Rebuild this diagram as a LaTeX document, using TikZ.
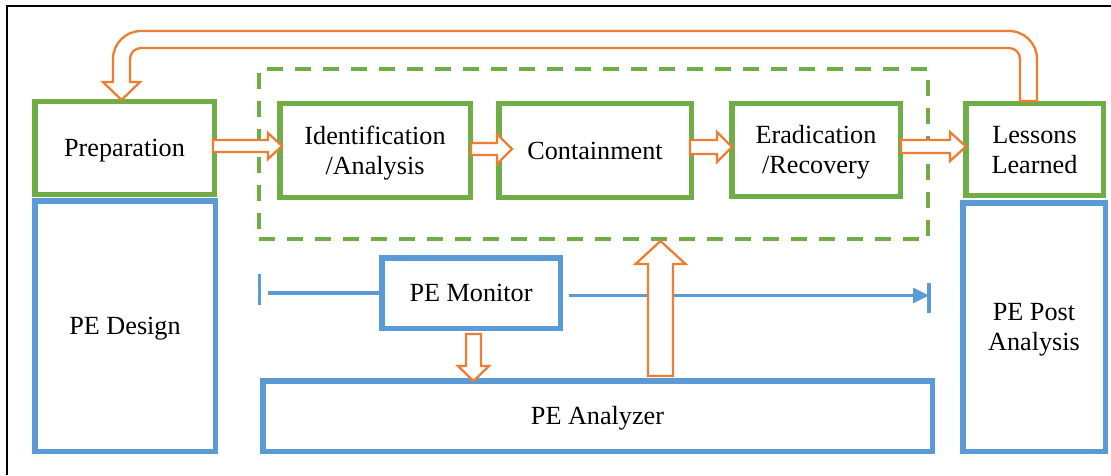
\documentclass[tikz,border=0pt]{standalone}
\usepackage{fontspec}
\setmainfont{Liberation Serif}
\usetikzlibrary{calc,arrows.meta}

\definecolor{boxgreen}{HTML}{70AD47}
\definecolor{boxblue}{HTML}{5B9BD5}
\definecolor{flow}{HTML}{ED7D31}

\newcommand\diagfont{\fontsize{26.2}{30}\selectfont}
% line box of the font (ascent + descent), so lines sit as in a word processor
\newcommand\lbox{\rule[-0.216em]{0pt}{1.107em}}

\tikzset{
  phase/.style={draw=boxgreen, line width=5.5pt, fill=white, align=center,
                inner sep=0pt, font=\diagfont},
  tool/.style={draw=boxblue, line width=5.5pt, fill=white, align=center,
               inner sep=0pt, font=\diagfont},
  framebox/.style={draw=boxgreen, line width=4pt, dash pattern=on 16pt off 12pt,
                   inner sep=0pt},
  blockarrow/.style={draw=flow, fill=white, line width=2.3pt, line join=miter},
  monline/.style={draw=boxblue, line width=3.3pt},
}

% block arrow pointing right: tail, tip, shaft half-width, head half-width, head length
\newcommand\rightblock[5]{%
  \path[blockarrow] let \p1=(#1), \p2=(#2) in
    (\x1,{\y2+#3pt}) -- ({\x2-#5pt},{\y2+#3pt}) -- ({\x2-#5pt},{\y2+#4pt})
    -- (\x2,\y2) -- ({\x2-#5pt},{\y2-#4pt}) -- ({\x2-#5pt},{\y2-#3pt})
    -- (\x1,{\y2-#3pt}) -- cycle;}
% block arrow pointing up
\newcommand\upblock[5]{%
  \path[blockarrow] let \p1=(#1), \p2=(#2) in
    ({\x2+#3pt},\y1) -- ({\x2+#3pt},{\y2-#5pt}) -- ({\x2+#4pt},{\y2-#5pt})
    -- (\x2,\y2) -- ({\x2-#4pt},{\y2-#5pt}) -- ({\x2-#3pt},{\y2-#5pt})
    -- ({\x2-#3pt},\y1) -- cycle;}
% block arrow pointing down
\newcommand\downblock[5]{%
  \path[blockarrow] let \p1=(#1), \p2=(#2) in
    ({\x2+#3pt},\y1) -- ({\x2+#3pt},{\y2+#5pt}) -- ({\x2+#4pt},{\y2+#5pt})
    -- (\x2,\y2) -- ({\x2-#4pt},{\y2+#5pt}) -- ({\x2-#3pt},{\y2+#5pt})
    -- ({\x2-#3pt},\y1) -- cycle;}

\begin{document}
\begin{tikzpicture}[x=1pt,y=1pt]
\useasboundingbox (0,0) rectangle (1111,475);

% outer frame (left and top edges)
\draw[line width=2pt] (7,0) -- (7,469) -- (1111,469);

% dashed group around the response phases
\node[framebox, minimum width=669pt, minimum height=170pt] (frame) at (593.5,321) {};

% incident response phases
\node[phase, minimum width=179.5pt, minimum height=92.5pt] (prep)    at (124.5,327)   {\lbox Preparation};
\node[phase, minimum width=190.5pt, minimum height=93.5pt] (ident)   at (375,324.5)   {\lbox Identification\\\lbox/Analysis};
\node[phase, minimum width=192.5pt, minimum height=93.5pt] (cont)    at (595,324.5)   {\lbox Containment};
\node[phase, minimum width=168.5pt, minimum height=92.5pt] (erad)    at (816,325)     {\lbox Eradication\\\lbox/Recovery};
\node[phase, minimum width=137.5pt, minimum height=91.5pt] (lessons) at (1034.5,325.5) {\lbox Lessons\\\lbox Learned};

% PE tooling
\node[tool, minimum width=180.5pt, minimum height=250.5pt] (design) at (125,149)    {\lbox PE Design};
\node[tool, minimum width=142.5pt, minimum height=248.5pt] (post)   at (1034,148)   {\lbox PE Post\\\lbox Analysis};
\node[tool, minimum width=178.5pt, minimum height=70.5pt]  (mon)    at (471,182)    {\lbox PE Monitor};
\node[tool, minimum width=669.5pt, minimum height=70.5pt]  (anal)   at (597.5,59)   {\lbox PE Analyzer};

% monitoring span
\coordinate (lbar) at (259.5,182);
\coordinate (rbar) at (929,179.5);
\draw[monline] ($(lbar)+(0,-12)$) -- ($(lbar)+(0,19)$);
\draw[monline] ($(lbar)+(8,0)$) -- (mon.west);
\draw[monline, -{Triangle[length=16pt,width=15pt]}] ($(mon.east |- rbar)+(6,0)$) -- (rbar);
\draw[monline] ($(rbar)+(0,-17.5)$) -- ($(rbar)+(0,12.5)$);

% phase flow
\rightblock{$(prep.east)+(-4,0)$}{$(ident.west)+(5,4.5)$}{6}{13}{14}
\rightblock{$(ident.east)+(-2,0)$}{$(cont.west)+(16,1.5)$}{6}{15}{15}
\rightblock{$(cont.east)+(-4,0)$}{$(erad.west)+(3,3)$}{7}{15}{15}
\rightblock{$(erad.east)+(-2,0)$}{$(lessons.west)+(3,3)$}{6.5}{14.5}{16}

% monitor feeds analyzer, analyzer feeds response
\downblock{$(mon.south)+(0,-3)$}{$(mon.south |- anal.north)+(2.5,-3)$}{7.5}{15.5}{15}
\upblock{$(anal.north)+(0,2)$}{$(frame.south)+(67,0)$}{12.5}{25}{23}

% lessons learned feed back into preparation
\path[blockarrow] let \p1=(lessons.north), \p2=(prep.north) in
  ({\x1+2.5pt},\y1) -- ({\x1+2.5pt},416pt)
  arc[start angle=0, end angle=90, radius=28pt]
  -- ({\x2+16.5pt},444pt)
  arc[start angle=90, end angle=180, radius=28pt]
  -- ({\x2-11.5pt},393pt) -- ({\x2-21.5pt},393pt) -- ({\x2-3pt},{\y2-1pt})
  -- ({\x2+15.5pt},393pt) -- ({\x2+5.5pt},393pt) -- ({\x2+5.5pt},416pt)
  arc[start angle=180, end angle=90, radius=11pt]
  -- ({\x1-25.5pt},427pt)
  arc[start angle=90, end angle=0, radius=11pt]
  -- ({\x1-14.5pt},\y1) -- cycle;
\end{tikzpicture}
\end{document}
